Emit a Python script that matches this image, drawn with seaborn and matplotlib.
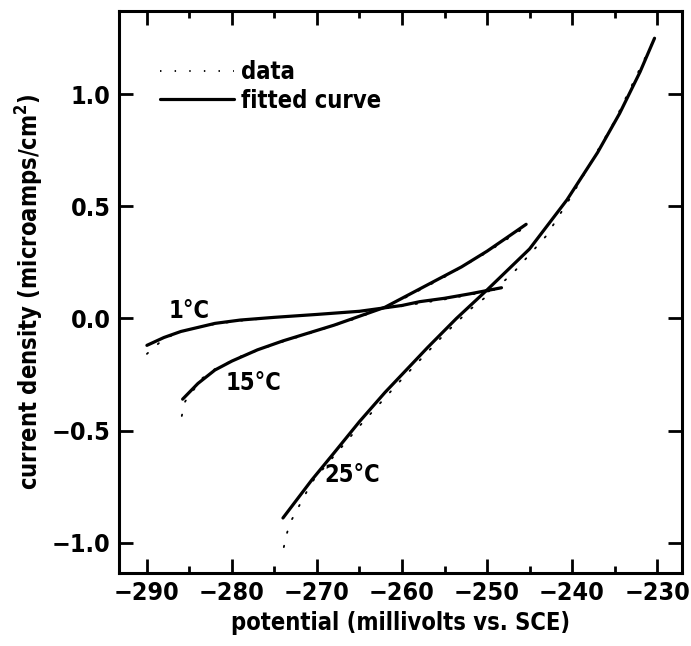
import numpy as np
import pandas as pd
import matplotlib
matplotlib.use('Agg')
import matplotlib.pyplot as plt
from matplotlib.lines import Line2D
from matplotlib.ticker import MultipleLocator
import seaborn as sns

# fitted curves
fit_1c_x = [-290, -288, -286, -284, -282, -279, -275, -270, -265, -260, -257.9, -255, -252, -248.3]
fit_1c_y = [-0.12, -0.085, -0.058, -0.04, -0.022, -0.007, 0.005, 0.018, 0.032, 0.058, 0.075, 0.09, 0.11, 0.137]

fit_15c_x = [-285.8, -284, -282, -280, -277, -274, -271, -268, -265, -262, -259, -256, -253, -250, -247.5, -245.4]
fit_15c_y = [-0.36, -0.29, -0.23, -0.19, -0.14, -0.10, -0.065, -0.03, 0.01, 0.05, 0.11, 0.17, 0.23, 0.30, 0.365, 0.42]

fit_25c_x = [-274.0, -272, -270.6, -268, -265, -262, -260, -257, -253.6, -250, -245, -240.6, -237, -234.4, -232, -230.3]
fit_25c_y = [-0.89, -0.79, -0.72, -0.60, -0.46, -0.33, -0.25, -0.13, 0.0, 0.127, 0.31, 0.529, 0.74, 0.915, 1.10, 1.25]

# measured data (dotted)
dat_1c_x = [-290, -288, -286, -284, -282, -279, -275, -270, -265, -260, -255, -250, -248.3]
dat_1c_y = [-0.158, -0.09, -0.06, -0.04, -0.025, -0.01, 0.004, 0.016, 0.03, 0.055, 0.085, 0.12, 0.13]

dat_15c_x = [-285.9, -285.5, -283.5, -282.2, -280.6, -279, -275, -271, -265, -260, -255, -250, -245.4]
dat_15c_y = [-0.435, -0.37, -0.267, -0.23, -0.20, -0.17, -0.115, -0.068, 0.005, 0.085, 0.185, 0.295, 0.41]

dat_25c_x = [-273.9, -273.5, -273, -270.6, -265, -260, -255, -252, -250, -247, -243, -240, -235, -230.3]
dat_25c_y = [-1.02, -0.954, -0.90, -0.73, -0.48, -0.27, -0.07, 0.04, 0.10, 0.20, 0.37, 0.55, 0.88, 1.25]

labels = ['1°C', '15°C', '25°C']
label_x = [-285.0, -277.5, -265.8]
label_y = [0.035, -0.29, -0.70]

sns.set_style('ticks')
plt.rcParams['font.family'] = ['DejaVu Sans']
plt.rcParams['font.stretch'] = 'condensed'
plt.rcParams['font.weight'] = 'bold'
plt.rcParams['axes.labelweight'] = 'bold'
plt.rcParams['text.color'] = 'black'
plt.rcParams['axes.labelcolor'] = 'black'
plt.rcParams['xtick.color'] = 'black'
plt.rcParams['ytick.color'] = 'black'
plt.rcParams['axes.edgecolor'] = 'black'
plt.rcParams['axes.unicode_minus'] = True

fig = plt.figure(figsize=(6.91, 6.46), dpi=100)
ax = fig.add_axes([0.172, 0.1135, 0.8146, 0.87])

fits = pd.concat([
    pd.DataFrame({'x': fit_1c_x, 'y': fit_1c_y, 'T': '1'}),
    pd.DataFrame({'x': fit_15c_x, 'y': fit_15c_y, 'T': '15'}),
    pd.DataFrame({'x': fit_25c_x, 'y': fit_25c_y, 'T': '25'}),
])
data = pd.concat([
    pd.DataFrame({'x': dat_1c_x, 'y': dat_1c_y, 'T': '1'}),
    pd.DataFrame({'x': dat_15c_x, 'y': dat_15c_y, 'T': '15'}),
    pd.DataFrame({'x': dat_25c_x, 'y': dat_25c_y, 'T': '25'}),
])

dotted = (0, (0.8, 7.3))
for t in ['1', '15', '25']:
    d = data[data['T'] == t]
    ax.plot(d['x'], d['y'], color='black', lw=1.3, linestyle=dotted,
            dash_capstyle='round')
    f = fits[fits['T'] == t]
    sns.lineplot(x='x', y='y', data=f, ax=ax, color='black', lw=2.3,
                 sort=False, estimator=None)

for lab, lx, ly in zip(labels, label_x, label_y):
    ax.text(lx, ly, lab, fontsize=17, ha='center', va='center')

ax.set_xlim(-293.3, -227.1)
ax.set_ylim(-1.134, 1.373)
ax.xaxis.set_major_locator(MultipleLocator(10))
ax.xaxis.set_minor_locator(MultipleLocator(5))
ax.yaxis.set_major_locator(MultipleLocator(0.5))

ax.tick_params(which='both', direction='in', top=True, right=True, width=2,
               labelsize=18, pad=6)
ax.tick_params(which='major', length=10)
ax.tick_params(which='minor', length=5)
for s in ax.spines.values():
    s.set_linewidth(2.2)

ax.set_xlabel('potential (millivolts vs. SCE)', fontsize=17)
ax.set_ylabel('current density (microamps/cm$^2$)', fontsize=17)

handles = [Line2D([], [], color='black', lw=1.3, linestyle=dotted),
           Line2D([], [], color='black', lw=2.3)]
ax.legend(handles, ['data', 'fitted curve'], loc='upper left', frameon=False,
          bbox_to_anchor=(0.036, 0.95), handlelength=3.1,
          prop={'size': 17}, labelspacing=0.2, handletextpad=0.3)

fig.savefig('out.png', dpi=100)
